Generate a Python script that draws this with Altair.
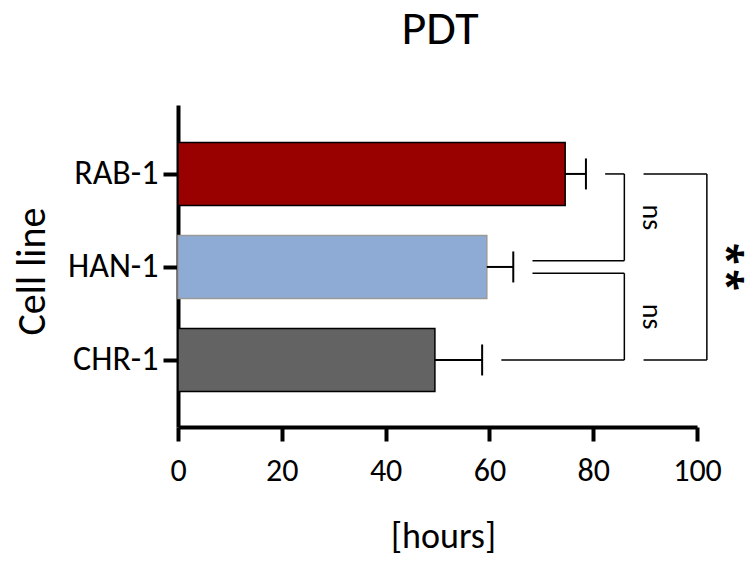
import altair as alt
import pandas as pd

# ---- data ----
chart_title = "PDT"
cells = ["RAB-1", "HAN-1", "CHR-1"]
means = [74.6, 59.5, 49.5]
sds = [4.0, 5.1, 9.1]
fills = ["#990000", "#8DABD4", "#636363"]
strokes = ["#000000", "#9A9A9A", "#000000"]
x_ticks = [0, 20, 40, 60, 80, 100]

comp_a = ["RAB-1", "HAN-1", "RAB-1"]
comp_b = ["HAN-1", "CHR-1", "CHR-1"]
comp_label = ["ns", "ns", "**"]
comp_level = [0, 0, 1]
bracket_x = [86.0, 86.0, 101.9]

FONT = "Carlito, Lato, sans-serif"
STAR_FONT = "Noto Sans"
GAP_X = 3.7        # gap between error bar end and bracket line (x units)
GAP_Y = 0.068      # separation of bracket ends sharing a group (y units)
STAR_STEP = 0.28   # spacing of stacked significance stars (y units)

n = len(cells)
pos = {c: n - 1 - i for i, c in enumerate(cells)}
top_of = {c: m + s for c, m, s in zip(cells, means, sds)}

bars_df = pd.DataFrame({
    "cell": cells,
    "pos": [pos[c] for c in cells],
    "mean": means,
    "top": [top_of[c] for c in cells],
    "fill": fills,
    "stroke": strokes,
})

# ---- bracket segments ----
level0_x = {}
count0 = {}
for a, b, lv, bx in zip(comp_a, comp_b, comp_level, bracket_x):
    if lv == 0:
        level0_x[a] = bx
        level0_x[b] = bx
        count0[a] = count0.get(a, 0) + 1
        count0[b] = count0.get(b, 0) + 1

segs = []
texts = []
stars = []
for a, b, lab, lv, bx in zip(comp_a, comp_b, comp_label, comp_level, bracket_x):
    ya, yb = pos[a], pos[b]
    if lv == 0:
        if count0[a] > 1:
            ya += GAP_Y if yb > ya else -GAP_Y
        if count0[b] > 1:
            yb += GAP_Y if ya > yb else -GAP_Y
        sa = top_of[a] + GAP_X
        sb = top_of[b] + GAP_X
    else:
        sa = level0_x[a] + GAP_X
        sb = level0_x[b] + GAP_X
    segs.append({"x": sa, "x2": bx, "y": ya, "y2": ya})
    segs.append({"x": sb, "x2": bx, "y": yb, "y2": yb})
    segs.append({"x": bx, "x2": bx, "y": ya, "y2": yb})
    mid = (ya + yb) / 2
    if lab == "ns":
        texts.append({"x": bx, "y": mid, "label": lab})
    else:
        L = len(lab)
        for k, ch in enumerate(lab):
            stars.append({"x": bx, "y": mid - (k - (L - 1) / 2) * STAR_STEP, "label": ch})

seg_df = pd.DataFrame(segs)
txt_df = pd.DataFrame(texts)
star_df = pd.DataFrame(stars)
title_df = pd.DataFrame({"t": [chart_title]})

x_scale = alt.Scale(domain=[0, 100], nice=False, zero=True)
y_scale = alt.Scale(domain=[-0.667, 2.6875], nice=False, zero=False)

label_expr = "[" + ",".join("'" + c + "'" for c in reversed(cells)) + "][datum.value]"

x_axis = alt.Axis(
    values=x_ticks, grid=False, tickSize=14, tickWidth=4, tickColor="black",
    domainWidth=4, domainColor="black", labelFont=FONT, labelFontSize=32,
    labelColor="black", labelPadding=14, labelFlush=False, labelOverlap=False,
    titleFont=FONT, titleFontSize=36, titleFontWeight="normal", titleColor="black",
    titleX=265, titleY=109, titleAlign="center", titleBaseline="middle",
)
y_axis = alt.Axis(
    values=list(range(n)), labelExpr=label_expr, grid=False, tickSize=15,
    tickWidth=4, tickColor="black", domainWidth=4, domainColor="black",
    labelFont=FONT, labelFontSize=34, labelColor="black", labelPadding=5,
    labelOverlap=False, titleFont=FONT, titleFontSize=40,
    titleFontWeight="normal", titleColor="black", titleX=-146, titleY=166,
    titleAngle=-90, titleAlign="center", titleBaseline="middle",
)

bars = alt.Chart(bars_df).mark_bar(orient="horizontal", size=63, strokeWidth=1.5).encode(
    x=alt.X("mean:Q", scale=x_scale, axis=x_axis, title="[hours]"),
    y=alt.Y("pos:Q", scale=y_scale, axis=y_axis, title="Cell line"),
    fill=alt.Fill("fill:N", scale=None),
    stroke=alt.Stroke("stroke:N", scale=None),
)

err_line = alt.Chart(bars_df).mark_rule(strokeWidth=2, color="black").encode(
    x=alt.X("mean:Q", scale=x_scale), x2="top:Q", y=alt.Y("pos:Q", scale=y_scale)
)
err_cap = alt.Chart(bars_df).mark_tick(
    orient="vertical", size=31, thickness=2, color="black", opacity=1
).encode(x=alt.X("top:Q", scale=x_scale), y=alt.Y("pos:Q", scale=y_scale))

brackets = alt.Chart(seg_df).mark_rule(strokeWidth=1.5, color="black").encode(
    x=alt.X("x:Q", scale=x_scale), x2="x2:Q",
    y=alt.Y("y:Q", scale=y_scale), y2="y2:Q",
)

ns_text = alt.Chart(txt_df).mark_text(
    angle=90, font=FONT, fontSize=28, color="black", align="center",
    baseline="middle", xOffset=27,
).encode(x=alt.X("x:Q", scale=x_scale), y=alt.Y("y:Q", scale=y_scale), text="label:N")

star_text = alt.Chart(star_df).mark_text(
    angle=90, font=STAR_FONT, fontSize=40, fontWeight="bold", color="black",
    align="center", baseline="middle", xOffset=19,
).encode(x=alt.X("x:Q", scale=x_scale), y=alt.Y("y:Q", scale=y_scale), text="label:N")

title_text = alt.Chart(title_df).mark_text(
    font=FONT, fontSize=48, color="black", align="center", baseline="alphabetic"
).encode(text="t:N", x=alt.value(262), y=alt.value(-61))

chart = alt.layer(bars, err_line, err_cap, brackets, ns_text, star_text, title_text).properties(
    width=519, height=322,
    padding={"left": 170, "top": 97, "right": 50, "bottom": 131},
    autosize=alt.AutoSizeParams(type="none"),
).configure_view(stroke=None)

chart.save("out.html", embed_options={"renderer": "svg", "actions": False})
